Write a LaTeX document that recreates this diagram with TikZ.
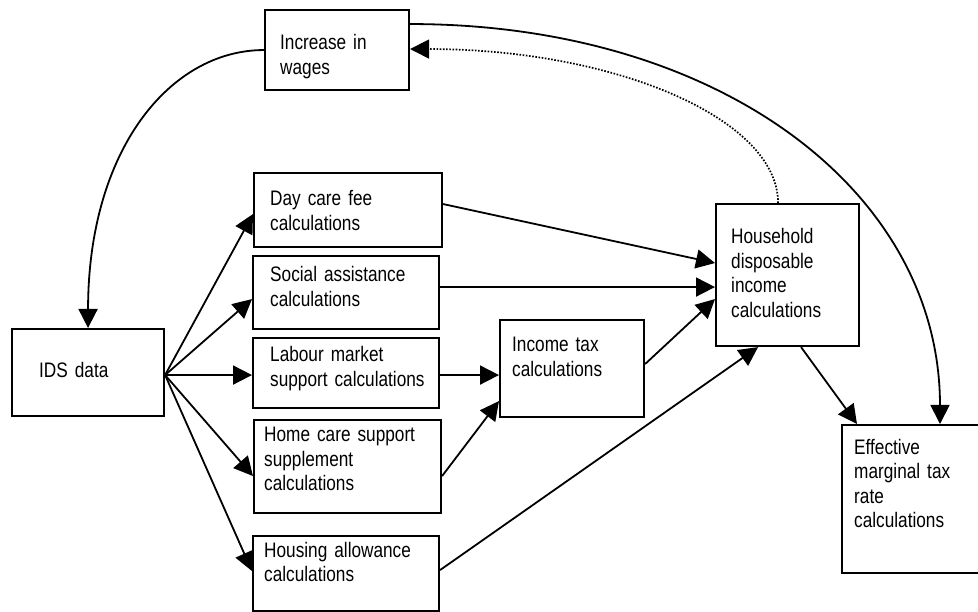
\documentclass[tikz,border=0pt]{standalone}
\usepackage{fontspec}
\newfontfamily\narrowfont[FakeStretch=0.82,WordSpace=0.8]{Liberation Sans}
\usetikzlibrary{arrows.meta}
\begin{document}
\begin{tikzpicture}[x=1pt,y=-1pt,
  box/.style={draw, line width=2.1pt, anchor=north west, inner sep=0pt},
  txt/.style={font=\narrowfont\fontsize{21}{24.5}\selectfont, anchor=base west, inner sep=0pt, text width=230pt, align=left},
  conn/.style={line width=1.8pt, -{Triangle[length=19pt,width=19pt]}},
  dots/.style={line width=1.7pt, dash pattern=on 1.6pt off 1.6pt, -{Triangle[length=19pt,width=19pt]}}]
\useasboundingbox (0,0) rectangle (978,612);
\clip (0,0) rectangle (978,612);
% boxes
\node[box, minimum width=144pt, minimum height=80pt] (inc) at (264,9) {};
\node[box, minimum width=188pt, minimum height=74pt] (dc) at (253,172) {};
\node[box, minimum width=186pt, minimum height=73pt] (sa) at (252,255) {};
\node[box, minimum width=152pt, minimum height=87pt] (ids) at (11,328) {};
\node[box, minimum width=186pt, minimum height=70pt] (lm) at (252,337) {};
\node[box, minimum width=187pt, minimum height=93pt] (hc) at (253,419) {};
\node[box, minimum width=186pt, minimum height=75pt] (ha) at (252,535) {};
\node[box, minimum width=144pt, minimum height=97pt] (it) at (499,319) {};
\node[box, minimum width=143pt, minimum height=142pt] (hh) at (715,203) {};
\node[box, minimum width=150pt, minimum height=148pt] (em) at (841,424) {};
% texts
\node[txt] (inc-t) at (280,50) {Increase in\\wages};
\node[txt] (dc-t) at (270,206) {Day care fee\\calculations};
\node[txt] (sa-t) at (270,282) {Social assistance\\calculations};
\node[txt] (ids-t) at (39,378) {IDS data};
\node[txt] (lm-t) at (270,362) {Labour market\\support calculations};
\node[txt] (hc-t) at (264,442) {Home care support\\supplement\\calculations};
\node[txt] (ha-t) at (264,557) {Housing allowance\\calculations};
\node[txt] (it-t) at (512,352) {Income tax\\calculations};
\node[txt] (hh-t) at (731,244) {Household\\disposable\\income\\calculations};
\node[txt] (em-t) at (854,454) {Effective\\marginal tax\\rate\\calculations};
% fan from IDS
\coordinate (src) at ([yshift=-2.5pt]ids.east);
\draw[conn] (src) -- ([yshift=-4pt]dc.west);
\draw[conn] (src) -- ([yshift=-6.5pt]sa.west);
\draw[conn] (src) -- ([yshift=-2pt]lm.west);
\draw[conn] (src) -- ([yshift=-9.5pt]hc.west);
\draw[conn] (src) -- ([yshift=2.5pt]ha.west);
% into household / income tax
\draw[conn] ([yshift=6pt]dc.east) -- ([yshift=12pt]hh.west);
\draw[conn] ([yshift=5.5pt]sa.east) -- ([yshift=-12pt]hh.west);
\draw[conn] ([yshift=-2pt]lm.east) -- ([yshift=-6.5pt]it.west);
\draw[conn] ([yshift=-9.5pt]hc.east) -- ([yshift=-32.5pt]it.west);
\draw[conn] ([yshift=4.5pt]it.east) -- ([yshift=-24pt]hh.west);
\draw[conn] ([yshift=3.5pt]ha.east) -- ([xshift=-29.5pt]hh.south);
\draw[conn] ([xshift=13.5pt]hh.south) -- ([xshift=16pt]em.north west);
% curves
\draw[conn] (inc.west) .. controls +(-94,0) and +(0,-178) .. (ids.north);
\draw[conn] ([yshift=26pt]inc.east) .. controls +(309,0) and +(0,-233) .. ([xshift=99pt]em.north west);
\draw[dots] ([xshift=-9.5pt]hh.north) .. controls +(0,-85) and +(203,0) .. ([yshift=1pt]inc.east);
\end{tikzpicture}
\end{document}
